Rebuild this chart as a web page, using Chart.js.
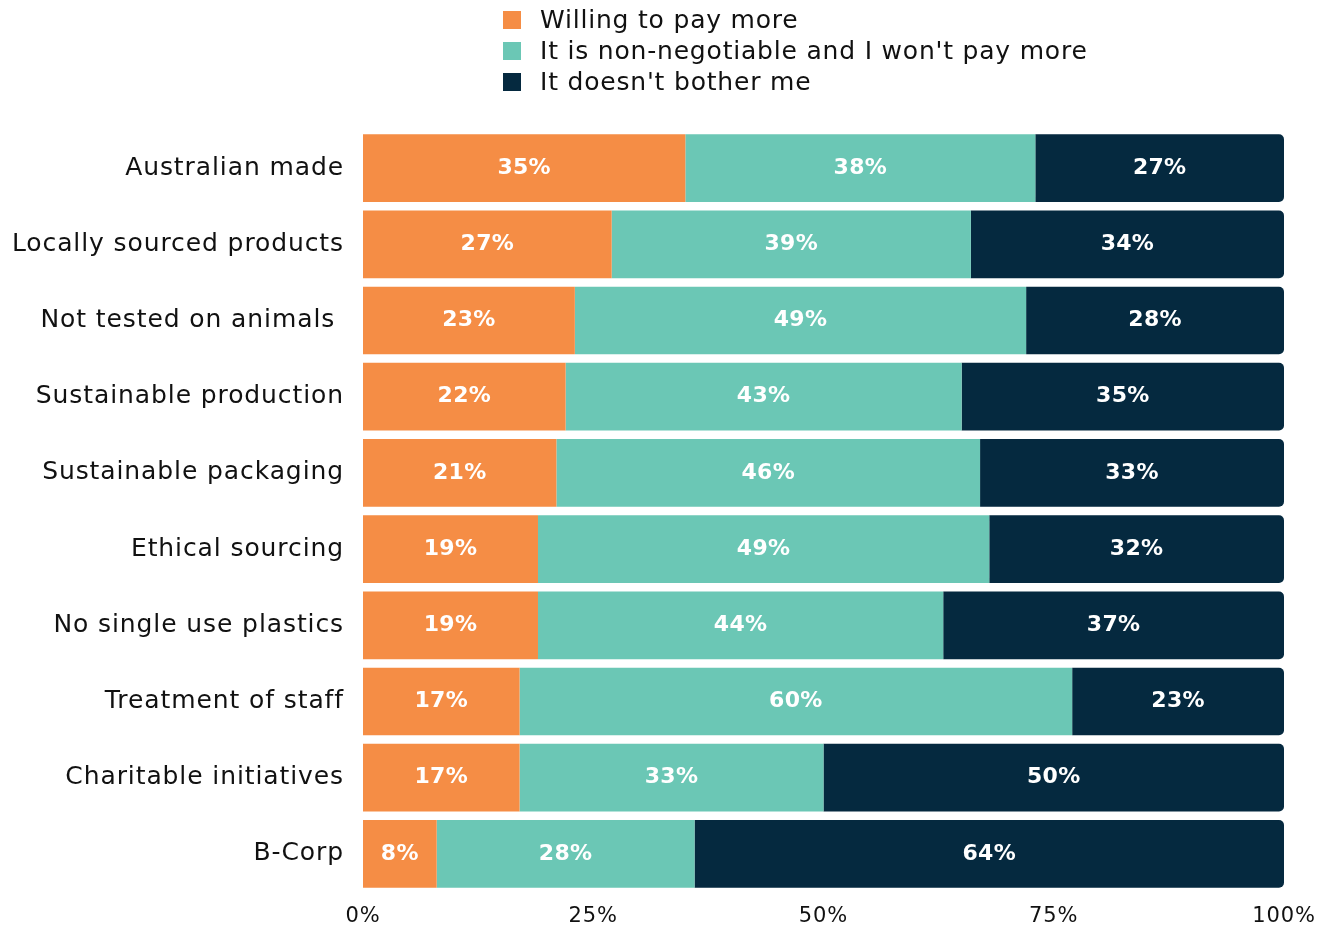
<!DOCTYPE html>
<html>
<head>
<meta charset="utf-8">
<script src="https://cdn.jsdelivr.net/npm/chart.js@4"></script>
<style>
  html, body { margin: 0; padding: 0; background: #fff; }
  #wrap { position: relative; width: 1332px; height: 931px; }
  #legend { position: absolute; left: 503px; top: 4px; font-family: "DejaVu Sans", sans-serif; font-size: 25px; letter-spacing: 0.8px; color: #111; }
  #legend .item { display: flex; align-items: center; height: 31px; }
  #legend .box { width: 18px; height: 18px; margin-right: 19px; }
  canvas { display: block; }
</style>
</head>
<body>
<div id="wrap">
  <canvas id="c" width="1332" height="931"></canvas>
  <div id="legend"></div>
</div>
<script>
const categories = ["Australian made", "Locally sourced products", "Not tested on animals ", "Sustainable production", "Sustainable packaging", "Ethical sourcing", "No single use plastics", "Treatment of staff", "Charitable initiatives", "B-Corp"];
const seriesNames = ["Willing to pay more", "It is non-negotiable and I won't pay more", "It doesn't bother me"];
const willingToPay = [35, 27, 23, 22, 21, 19, 19, 17, 17, 8];
const nonNegotiable = [38, 39, 49, 43, 46, 49, 44, 60, 33, 28];
const doesntBother = [27, 34, 28, 35, 33, 32, 37, 23, 50, 64];
const xTicks = [0, 25, 50, 75, 100];
const colors = ["#F58D45", "#6BC7B5", "#05293F"];

const FONT = "DejaVu Sans";

const legendEl = document.getElementById('legend');
seriesNames.forEach((n, i) => {
  const d = document.createElement('div'); d.className = 'item';
  const b = document.createElement('span'); b.className = 'box'; b.style.background = colors[i];
  const t = document.createElement('span'); t.textContent = n;
  d.appendChild(b); d.appendChild(t); legendEl.appendChild(d);
});

const spacingPlugin = {
  id: 'spacing',
  beforeDraw(chart) { chart.ctx.letterSpacing = '0.9px'; }
};

const labelPlugin = {
  id: 'barLabels',
  afterDatasetsDraw(chart) {
    const ctx = chart.ctx;
    ctx.save();
    ctx.letterSpacing = '0.3px';
    ctx.fillStyle = '#fff';
    ctx.font = `bold 22px ${FONT}`;
    ctx.textAlign = 'center';
    ctx.textBaseline = 'middle';
    chart.data.datasets.forEach((ds, di) => {
      const meta = chart.getDatasetMeta(di);
      meta.data.forEach((bar, i) => {
        const p = bar.getProps(['x', 'y', 'base'], true);
        ctx.fillText(ds.data[i] + '%', (p.x + p.base) / 2, p.y);
      });
    });
    ctx.restore();
  }
};

new Chart(document.getElementById('c'), {
  type: 'bar',
  data: {
    labels: categories,
    datasets: [
      { label: seriesNames[0], data: willingToPay, backgroundColor: colors[0], borderRadius: 0 },
      { label: seriesNames[1], data: nonNegotiable, backgroundColor: colors[1], borderRadius: 0 },
      { label: seriesNames[2], data: doesntBother, backgroundColor: colors[2], borderRadius: 5 }
    ]
  },
  options: {
    indexAxis: 'y',
    responsive: false,
    animation: false,
    layout: { padding: { top: 130, right: 48, bottom: 0, left: 0 } },
    datasets: { bar: { categoryPercentage: 1, barPercentage: 0.888, borderSkipped: 'start' } },
    plugins: { legend: { display: false }, tooltip: { enabled: false } },
    scales: {
      x: {
        stacked: true, min: 0, max: 100,
        grid: { display: false }, border: { display: false },
        afterBuildTicks(scale) { scale.ticks = xTicks.map(v => ({ value: v })); },
        afterFit(scale) { scale.height = 39; },
        ticks: { color: '#111', font: { family: FONT, size: 21 }, padding: 4, maxRotation: 0, callback: v => v + '%' }
      },
      y: {
        stacked: true,
        grid: { display: false }, border: { display: false },
        afterFit(scale) { scale.width = 363; },
        ticks: { color: '#111', font: { family: FONT, size: 25 }, padding: 11 }
      }
    }
  },
  plugins: [spacingPlugin, labelPlugin]
});
</script>
</body>
</html>
